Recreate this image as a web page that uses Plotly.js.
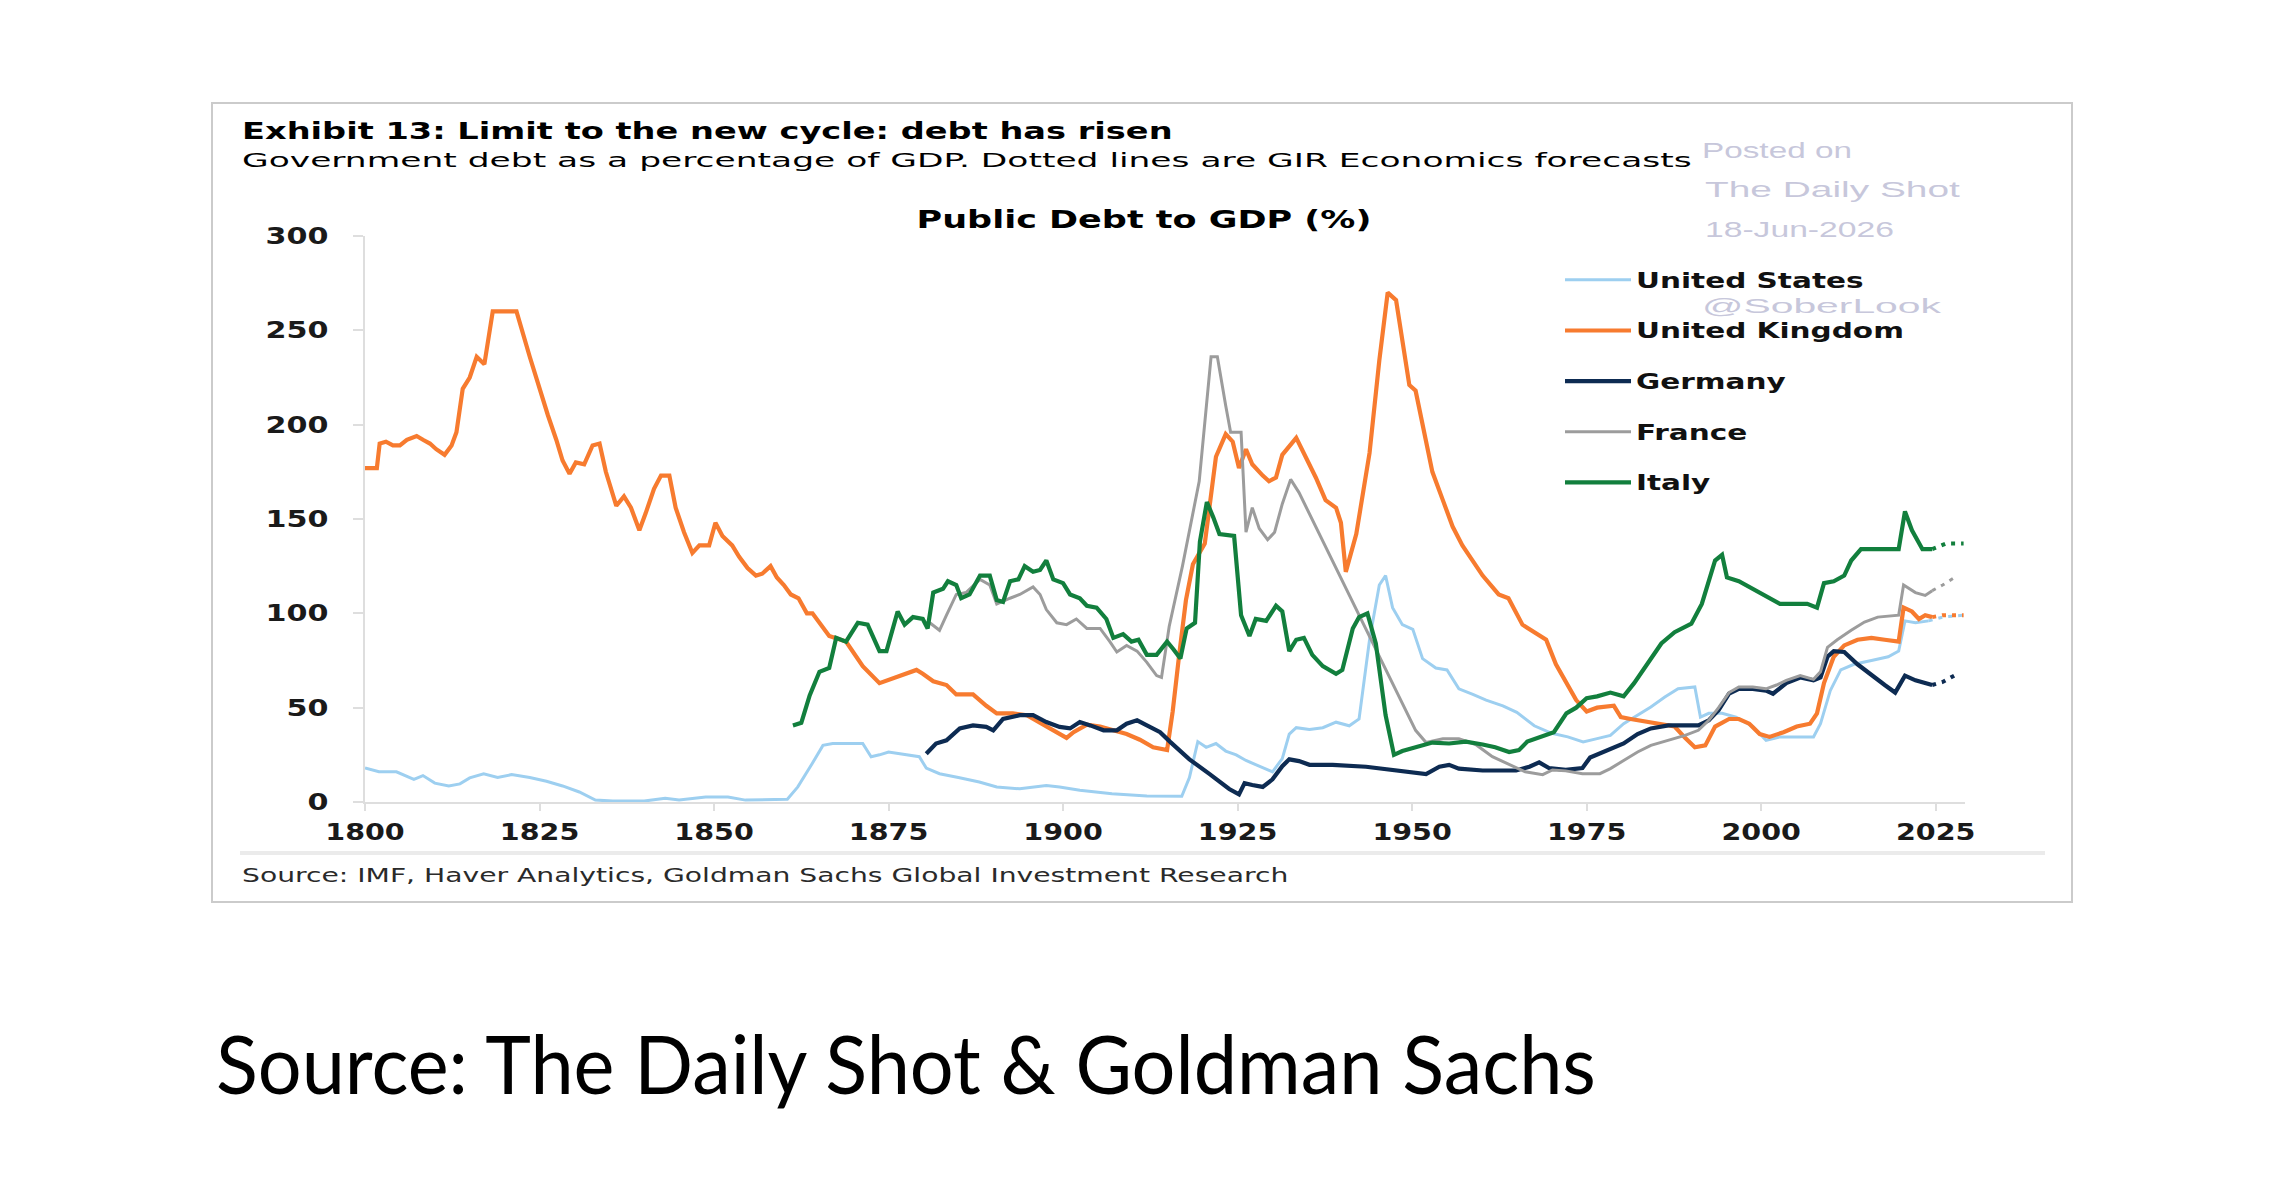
<!DOCTYPE html>
<html>
<head>
<meta charset="utf-8">
<script src="https://cdn.plot.ly/plotly-3.0.1.min.js"></script>
<style>
  html, body { margin: 0; padding: 0; background: #ffffff; overflow: hidden; }
  #chart { width: 2282px; height: 1196px; }
</style>
</head>
<body>
<div id="chart"></div>
<script>
// ---------------- DATA ----------------
const seriesNames = ["United States", "United Kingdom", "Germany", "France", "Italy"];

const usYears = [1800,1802,1804.5,1807,1808.3,1810,1812,1813.6,1815,1817,1819,1821,1823.6,1826,1828.3,1830.7,1833,1835.5,1840,1843,1845,1848.8,1852,1854.5,1860.5,1862,1864,1865.6,1867,1871.3,1872.5,1873.7,1875,1877.5,1879.4,1880.4,1882.3,1885,1888,1890.5,1893.8,1897.6,1899.5,1902.4,1907,1912,1917,1918.1,1919.3,1920.5,1921.9,1923.3,1924.8,1926.2,1928.1,1930,1931.4,1932.4,1933.4,1935.3,1937.2,1939.1,1941,1942.4,1943.9,1945.3,1946.2,1947.2,1948.6,1950.1,1951.5,1953.4,1955,1956.7,1958.7,1960.6,1963,1965,1967.5,1970,1972.3,1974.5,1976.5,1978.4,1980.3,1982.3,1984.2,1986.2,1988.1,1990.5,1991.3,1992.5,1994.4,1996.4,1998.8,2000.7,2002.7,2005,2007.5,2008.5,2009.9,2011.4,2013.3,2015.8,2018.2,2019.7,2020.6,2022.1,2024];
const usDebt  = [18,16,16,12,14,10,8.5,9.6,12.8,15,13,14.5,13,11,8.5,5.3,1,0.5,0.5,2,1,2.6,2.6,1,1.5,8,20,30,31,31,24,25,26.5,25,24,18,15,13,10.6,8,7,8.8,8,6.2,4.4,3.2,3,13,32,29,31,27,25,22,19,16,23,36,39.4,38.4,39.4,42.3,40.4,44,86,115,120,103,94,91.5,76,71,70,60,57,54,51,47.5,40.4,36.4,34.5,31.8,33.6,35.3,41.5,46,50.4,55.6,60,61,45,47,47,45,40,32.7,34.5,34.5,34.5,41.5,59,70,73,75,77,80,96,95,96];
const usFcYears = [2024, 2026, 2029];
const usFcDebt  = [96, 98, 99];

const ukYears = [1800,1801.7,1802.1,1803,1804,1805,1806,1807.4,1808.3,1809.3,1810.2,1811.4,1812.4,1813.1,1814,1815,1816,1817.1,1818.3,1821.7,1823.6,1825,1826.2,1827.4,1828.3,1829.3,1830.2,1831.4,1832.6,1833.6,1834.5,1836,1837.1,1838.1,1839.3,1840.2,1841.4,1842.4,1843.6,1844.5,1845.7,1846.9,1847.9,1849.3,1850.2,1851.2,1852.6,1853.6,1854.8,1856,1856.9,1858.1,1859,1860,1861,1862.1,1863.3,1864.1,1866.5,1868.9,1871.3,1873.7,1876.1,1879,1879.9,1881.4,1883.3,1884.7,1887.1,1889,1890.5,1892.8,1894.8,1896.7,1898.6,1900.5,1901.5,1903.4,1905.3,1907.2,1909.1,1911,1912.9,1914.9,1915.7,1916.6,1917.6,1918.6,1920.3,1921.9,1923.3,1924.3,1925.2,1926.2,1927.1,1928.6,1929.5,1930.5,1931.4,1933.4,1934.8,1936.2,1937.6,1939.1,1939.8,1940.5,1942,1943.9,1945.3,1946.5,1947.7,1948.6,1949.6,1950.5,1951.5,1952.9,1954.4,1955.8,1957.2,1958.7,1960.1,1962.4,1963.8,1965.8,1968.2,1969.2,1970.6,1972.1,1973.5,1975,1976.5,1978.9,1979.9,1981.3,1982.8,1985.2,1987.6,1989.1,1990.5,1992,1993.4,1995.4,1996.8,1998.3,1999.8,2001.2,2003.2,2005.1,2007,2008,2009,2010.4,2011.9,2013.8,2015.8,2017.7,2019.7,2020.4,2021.6,2022.6,2023.5,2024.5];
const ukDebt  = [177,177,190,191,189,189,192,194,192,190,187,184,189,196,219,225,236,232,260,260,236,219,205,192,181,174,180,179,189,190,175,157,162,156,144,153,166,173,173,156,143,132,136,136,148,141,136,130,124,120,121,125,119,115,110,108,100,100,88,85,72,63,66,70,68,64,62,57,57,51,47,47,46,42,38,34,37,41,40,38,36,33,29,27.5,48,77,107,126,137,183,195,191,177,187,179,173,170,172,184,193,183,172,160,156,148,122,142,185,234,270,266,244,221,218,199,175,160,146,136,128,120,110,108,94,88,86,73,63,54,48,50,51,45,44,43,41.5,40,34,29,30,40,44,44,41.5,36,34.5,37,40,41.5,47,63,77,83,86,87,86,85,103,101,97,99,98];
const ukFcYears = [2024.5, 2026, 2029];
const ukFcDebt  = [98, 99, 99];

const deYears = [1880.4,1881.8,1883.3,1885.2,1887.1,1889,1890,1891.4,1893.8,1895.7,1897.6,1899.5,1901,1902.4,1903.9,1905.8,1907.7,1909.1,1910.6,1912,1913.9,1915.3,1918.1,1921,1923.8,1925.2,1926,1927.1,1928.6,1930,1931.4,1932.4,1933.8,1935.3,1938.6,1943.4,1948.2,1950.5,1952,1953.9,1955.3,1956.7,1960.1,1964.9,1966.8,1968.2,1969.6,1972,1974.4,1975.5,1976.8,1978.4,1980.3,1982.3,1984.2,1986.7,1991,1992.5,1993.9,1995.4,1996.8,1998.8,2000.7,2001.7,2003.6,2005.6,2007.5,2008.5,2009.5,2010.4,2011.9,2013.8,2015.8,2017.7,2019.2,2020.6,2022.1,2023.5,2024.5];
const deDebt  = [25.6,31,32.7,39,40.6,39.8,38,44,46,46,42.4,39.8,39,42.4,40.6,38,38,41.5,43.3,40.6,37,32,22.6,14.8,6.9,4,10,9,8,12,19,22.6,21.7,19.7,19.7,18.7,16.7,15.7,14.8,18.7,19.7,17.7,16.7,16.7,18.7,21,18,17,18,23.6,25.6,28,31,36,39,40.6,40.6,43.3,48.6,57.4,60,60,59,57.4,63,66,64.5,66,77,80,79.5,73,67,62,58,67,64.5,63,62];
const deFcYears = [2024.5, 2026, 2028];
const deFcDebt  = [62, 63.6, 67.7];

const frYears = [1880.9,1882.3,1883.3,1884.7,1886.1,1888.1,1889.5,1890.5,1892.4,1893.8,1895.7,1896.7,1897.6,1899.1,1900.5,1901.9,1903.4,1905.3,1906.7,1907.7,1909.1,1910.6,1912,1913.4,1914.1,1915.2,1917.1,1919.5,1921.2,1922.1,1923.3,1924,1925.5,1926.2,1927.1,1928.1,1929.3,1930.3,1931.4,1932.6,1933.8,1950.5,1952,1954.4,1956.7,1959.1,1961.5,1963.9,1966.2,1968.7,1970.1,1972,1974.4,1976.9,1978.4,1980.3,1982.3,1984.2,1986.7,1989.1,1991,1992.5,1993.9,1995.4,1996.8,1998.8,2000.7,2002.2,2003.6,2005.6,2007.5,2008.5,2009.5,2010.9,2012.9,2014.8,2016.7,2019.7,2020.4,2022.1,2023.5,2024.5];
const frDebt  = [95,91,99,110,111,118,115,105,108,110,114,110,102,95,94,97,92,92,85,79.5,83,80,74,67,66,93,125,170,236,236,210,196,196,143,156,145,139,143,158,171,164,38,31.5,33.5,33.5,30.5,24,20,16,14.5,17,16.5,15,15,17.7,22,26.5,30,32.7,35.3,38,43.3,50,58,61,61,60,62,64.5,67,65,69,82,86,91,95.4,98,99,115,111,109.5,112];
const frFcYears = [2024.5, 2026, 2027.7];
const frFcDebt  = [112, 115, 119];

const itYears = [1861.3,1862.5,1863.7,1865.1,1866.5,1867.5,1868.9,1870.6,1872,1873.7,1874.7,1876.3,1877.3,1878.5,1879.9,1880.6,1881.4,1882.8,1883.5,1884.7,1885.4,1886.6,1888.1,1889.5,1890.5,1891.4,1892.4,1893.6,1894.5,1895.7,1896.7,1897.6,1898.6,1900,1901,1902.4,1903.4,1904.8,1906.2,1907.2,1908.6,1909.8,1910.8,1912,1913.4,1914.9,1915.8,1916.8,1917.7,1918.9,1919.6,1920.6,1921.5,1922.4,1924.5,1925.5,1926.7,1927.6,1929.1,1930.5,1931.4,1932.4,1933.4,1934.5,1935.7,1937.2,1939.1,1940,1941.5,1942.4,1943.6,1944.8,1946.2,1947.4,1948.6,1950.5,1952.9,1955.3,1957.7,1960.1,1961.9,1963.9,1965.3,1966.5,1968.5,1970.3,1972.1,1973.5,1975,1976.5,1978.4,1980.3,1981.8,1983.7,1985.7,1987.6,1990,1991.5,1993.4,1994.4,1995.1,1996.8,1998.8,2000.7,2002.7,2004.6,2006.6,2008,2009,2010.4,2011.9,2012.9,2014.3,2016.3,2018.2,2019.7,2020.6,2021.6,2023.1,2024.5];
const itDebt  = [40.6,42,56.5,69,71,87,85,95,94,80,80,101,94,98,97,92,111,113,117,115,108,110,120,120,107,106,117,118,125,122,123,128,118,116,110,108,104,103,97,87,89,85,86,78,78,85,81,76,92,95,138,159,151,142,141,99,88,97,96,104,101,80,86,87,78,72,68,70,92,98,100,84,46,25,27,29,31.5,31,32,30.5,29,26.5,27.5,32,34.5,37,47,50,55,56,58,56,63,73,84,90,94.5,105,128,131,119,117,113,109,105,105,105,103,116,117,120,128,134,134,134,134,154,144,134,134];
const itFcYears = [2024.5, 2026.5, 2029];
const itFcDebt  = [134, 137, 137];

const yTickVals = [0, 50, 100, 150, 200, 250, 300];
const xTickVals = [1800, 1825, 1850, 1875, 1900, 1925, 1950, 1975, 2000, 2025];

// ---------------- STYLE ----------------
const colors = {
  us: "#9dcff0", uk: "#f77b2f", de: "#0d2b52", fr: "#9c9c9c", it: "#127f3d"
};
const PL = 365, PR = 1965, PT = 236, PB = 802;           // plot area in page pixels
const W = 2282, H = 1196;
const px = v => (v - PL) / (PR - PL);
const py = v => (PB - v) / (PB - PT);

function actual(name, xs, ys, color, width, group) {
  return { type: "scatter", mode: "lines", name: name, x: xs, y: ys,
           line: { color: color, width: width }, legendgroup: group,
           hoverinfo: "skip" };
}
function forecast(xs, ys, color, width, group) {
  return { type: "scatter", mode: "lines", x: xs, y: ys, showlegend: false,
           line: { color: color, width: width, dash: "4px,6px" }, legendgroup: group,
           hoverinfo: "skip" };
}

const traces = [
  actual(seriesNames[0], usYears, usDebt, colors.us, 3, "g1"),
  actual(seriesNames[1], ukYears, ukDebt, colors.uk, 4.2, "g2"),
  actual(seriesNames[2], deYears, deDebt, colors.de, 4.2, "g3"),
  actual(seriesNames[3], frYears, frDebt, colors.fr, 3, "g4"),
  actual(seriesNames[4], itYears, itDebt, colors.it, 4.2, "g5"),
  forecast(usFcYears, usFcDebt, colors.us, 3, "g1"),
  forecast(ukFcYears, ukFcDebt, colors.uk, 4, "g2"),
  forecast(deFcYears, deFcDebt, colors.de, 4, "g3"),
  forecast(frFcYears, frFcDebt, colors.fr, 3, "g4"),
  forecast(itFcYears, itFcDebt, colors.it, 4, "g5")
];

const wm = "#c7c7db";
const annos = [
  { text: "Exhibit 13: Limit to the new cycle: debt has risen", x: px(240), y: py(131),
    font: { family: "DejaVu Sans", size: 23, color: "#000", weight: "bold" }, target: 931 },
  { text: "Government debt as a percentage of GDP. Dotted lines are GIR Economics forecasts", x: px(240), y: py(161),
    font: { family: "DejaVu Sans", size: 19.5, color: "#000" }, target: 1450 },
  { text: "Source: IMF, Haver Analytics, Goldman Sachs Global Investment Research", x: px(240), y: py(875),
    font: { family: "DejaVu Sans", size: 19, color: "#2a2a2a" }, target: 1047 },
  { text: "Posted on", x: px(1700), y: py(150), font: { family: "Liberation Sans", size: 22, color: wm }, target: 150 },
  { text: "The Daily Shot", x: px(1703), y: py(189), font: { family: "Liberation Sans", size: 22, color: wm }, target: 255 },
  { text: "18-Jun-2026", x: px(1703), y: py(230), font: { family: "Liberation Sans", size: 22, color: wm }, target: 189 },
  { text: "@SoberLook", x: px(1700), y: py(305), font: { family: "Liberation Sans", size: 21, color: wm }, target: 240 },
  { text: "Source: The Daily Shot & Goldman Sachs", x: px(214), y: py(1062),
    font: { family: "Lato, Open Sans, sans-serif", size: 81, color: "#000" }, target: 1380 }
];

const layout = {
  width: W, height: H,
  paper_bgcolor: "#ffffff", plot_bgcolor: "#ffffff",
  margin: { l: PL, r: W - PR, t: PT, b: H - PB, pad: 0 },
  showlegend: true,
  title: { text: "Public Debt to GDP (%)", xref: "container", yref: "container",
           x: 1144 / W, y: 1 - 220 / H, xanchor: "center", yanchor: "middle",
           font: { family: "DejaVu Sans", size: 24, color: "#000", weight: "bold" } },
  xaxis: { range: [1800, 2029.2], tickmode: "array", tickvals: xTickVals,
           showgrid: false, zeroline: false, showline: true, linecolor: "#dedede", linewidth: 2,
           ticks: "outside", ticklen: 7, tickwidth: 2, tickcolor: "#dedede", ticklabelstandoff: 1,
           tickfont: { family: "DejaVu Sans", size: 23, color: "#1a1a1a", weight: "bold" }, fixedrange: true },
  yaxis: { range: [0, 300], tickmode: "array", tickvals: yTickVals,
           showgrid: false, zeroline: false, showline: true, linecolor: "#dedede", linewidth: 2,
           ticks: "outside", ticklen: 10, tickwidth: 2, tickcolor: "#dedede", ticklabelstandoff: 20,
           tickfont: { family: "DejaVu Sans", size: 23, color: "#1a1a1a", weight: "bold" }, fixedrange: true },
  legend: { x: px(1560), y: py(260), xanchor: "left", yanchor: "top",
            bgcolor: "rgba(0,0,0,0)", borderwidth: 0, traceorder: "grouped",
            tracegroupgap: 21, itemwidth: 66, itemclick: false, itemdoubleclick: false,
            font: { family: "DejaVu Sans", size: 20.5, color: "#111", weight: "bold" } },
  shapes: [
    { type: "rect", xref: "paper", yref: "paper", x0: px(212), x1: px(2072), y0: py(103), y1: py(902),
      line: { color: "#cbcbcb", width: 2 }, fillcolor: "rgba(0,0,0,0)", layer: "below" },
    { type: "line", xref: "paper", yref: "paper", x0: px(240), x1: px(2045), y0: py(853), y1: py(853),
      line: { color: "#ebebeb", width: 4 } }
  ],
  annotations: annos.map(a => ({ text: a.text, x: a.x, y: a.y, xref: "paper", yref: "paper",
                                 xanchor: "left", yanchor: "middle", showarrow: false, align: "left",
                                 font: a.font }))
};

// horizontal stretch of text so the wide lettering of the original is kept
function stretch(el, k, anchor) {
  const bb = el.getBBox();
  const ox = anchor === "left" ? bb.x : (anchor === "right" ? bb.x + bb.width : bb.x + bb.width / 2);
  const prev = el.getAttribute("transform") || "";
  el.setAttribute("transform", (prev + " translate(" + (ox * (1 - k)) + ",0) scale(" + k + ",1)").trim());
}
function fit(el, target, anchor) {
  const w = el.getBBox().width;
  if (w > 0) stretch(el, target / w, anchor);
}
function widthOf(nodes, txt) {
  for (const n of nodes) if (n.textContent === txt) return n.getBBox().width;
  return 0;
}

Plotly.newPlot("chart", traces, layout, { staticPlot: true, displayModeBar: false }).then(gd => {
  const annEls = gd.querySelectorAll(".annotation .annotation-text");
  annEls.forEach((el, i) => { if (annos[i]) fit(el, annos[i].target, "left"); });
  const t = gd.querySelector(".gtitle");
  if (t) fit(t, 455, "center");
  const yt = gd.querySelectorAll(".ytick text");
  const ky = 63 / (widthOf(yt, "300") || 1);
  yt.forEach(el => stretch(el, ky, "right"));
  const xt = gd.querySelectorAll(".xtick text");
  const kx = 79.5 / (widthOf(xt, "1800") || 1);
  xt.forEach(el => stretch(el, kx, "center"));
  // the legend clips its items to the unstretched width: lift that clip
  gd.querySelectorAll(".legend, .legend *").forEach(el => el.removeAttribute("clip-path"));
  const lt = gd.querySelectorAll(".legendtext");
  const kl = 268 / (widthOf(lt, "United Kingdom") || 1);
  lt.forEach(el => stretch(el, kl, "left"));
});
</script>
</body>
</html>
